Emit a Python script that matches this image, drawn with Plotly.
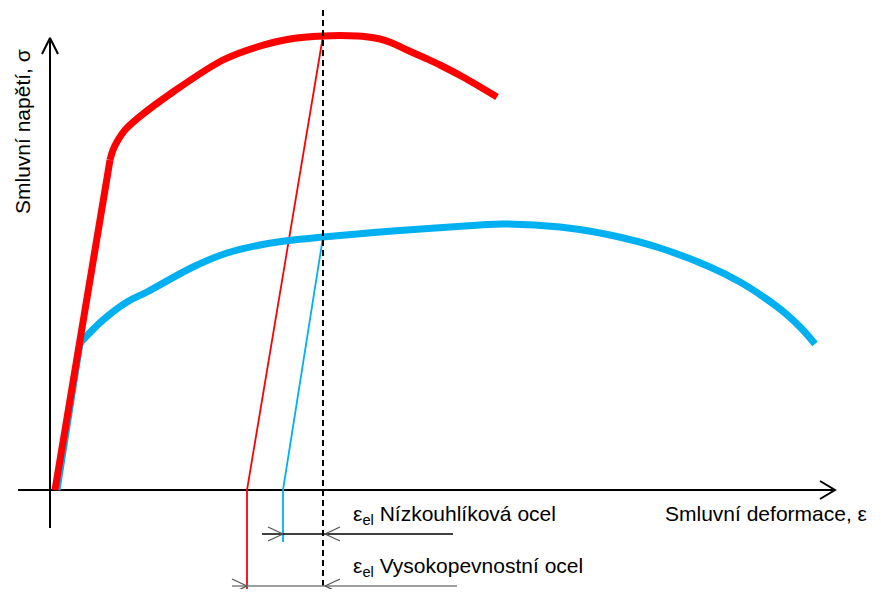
import plotly.graph_objects as go

# Coordinates: strain (horizontal), stress (vertical), origin at axes crossing
# Red: high-strength steel (Vysokopevnostní ocel)
red_el_strain = [5, 60]
red_el_stress = [0, 330]
red_pl_strain = [60, 63, 68, 75, 88, 123, 173, 207, 240, 273, 307, 318, 330, 342, 357, 375, 390, 413, 447]
red_pl_stress = [330, 340, 350, 360, 372, 398, 430, 443, 451, 454, 454, 453, 451, 447, 440, 432, 425, 413, 393]

# Blue: low-carbon steel (Nízkouhlíková ocel)
blue_el_strain = [7, 30]
blue_el_stress = [0, 147]
blue_pl_strain = [30, 53, 77, 97, 143, 177, 210, 243, 273, 343, 430, 453, 510, 560, 610, 660, 690, 715, 735, 752, 765]
blue_pl_stress = [147, 170, 188, 198, 223, 237, 245, 250, 253, 259, 265, 266, 263, 255, 242, 223, 208, 192, 177, 161, 146]

# Unloading (elastic recovery) lines
red_unload_strain = [273, 197, 197]
red_unload_stress = [454, 0, -107]
blue_unload_strain = [273, 233, 233]
blue_unload_stress = [253, 0, -52]

# Reference dashed line
dash_strain = [273, 273]
dash_stress = [480, -107]

# Axes
xaxis_strain = [-32, 785]
xaxis_stress = [0, 0]
yaxis_strain = [0, 0]
yaxis_stress = [-38, 452]

# Dimension lines for elastic strain
dim_blue_strain = [212, 403]
dim_blue_stress = [-44, -44]
dim_red_strain = [182, 407]
dim_red_stress = [-96, -96]

labels = {
    "x": "Smluvní deformace, ε",
    "y": "Smluvní napětí, σ",
    "blue": "ε<sub>el</sub> Nízkouhlíková ocel",
    "red": "ε<sub>el</sub> Vysokopevnostní ocel",
}

RED = "#FF0000"
BLUE = "#00B0F0"
FONT = "Liberation Sans"

fig = go.Figure()

def line(xs, ys, color, width, dash=None, shape="linear"):
    fig.add_trace(go.Scatter(x=xs, y=ys, mode="lines",
                             line=dict(color=color, width=width, dash=dash, shape=shape,
                                       smoothing=1.0 if shape == "spline" else None),
                             hoverinfo="skip"))

# axes
line(xaxis_strain, xaxis_stress, "black", 2)
line(yaxis_strain, yaxis_stress, "black", 2)
# arrowheads (open chevrons)
line([770, 785, 770], [9, 0, -9], "black", 2)
line([-8, 0, 8], [436, 452, 436], "black", 2)

# unloading lines
line(red_unload_strain, red_unload_stress, RED, 1.8)
line(blue_unload_strain, blue_unload_stress, BLUE, 1.8)

# curves
line(blue_el_strain, blue_el_stress, BLUE, 7)
line(blue_pl_strain, blue_pl_stress, BLUE, 7, shape="spline")
line(red_el_strain, red_el_stress, RED, 7)
line(red_pl_strain, red_pl_stress, RED, 7, shape="spline")

# dashed reference
line(dash_strain, dash_stress, "black", 2, dash="6px,4px")

# dimension lines
line(dim_blue_strain, dim_blue_stress, "black", 1.3)
line([218, 233, 218], [-37, -44, -51], "#555555", 1.3)
line([290, 275, 290], [-37, -44, -51], "#555555", 1.3)
line(dim_red_strain, dim_red_stress, "#7F7F7F", 1.5)
line([182, 197, 182], [-89, -96, -103], "#555555", 1.3)
line([290, 275, 290], [-89, -96, -103], "#555555", 1.3)

ann_font = dict(family=FONT, size=21, color="black")
fig.add_annotation(x=301, y=-25, text=labels["blue"], showarrow=False,
                   xanchor="left", yanchor="middle", font=ann_font)
fig.add_annotation(x=301, y=-77, text=labels["red"], showarrow=False,
                   xanchor="left", yanchor="middle", font=ann_font)
fig.add_annotation(x=819, y=-23, text=labels["x"], showarrow=False,
                   xanchor="right", yanchor="middle", font=ann_font)
fig.add_annotation(x=-28, y=358, text=labels["y"], showarrow=False, textangle=-90,
                   xanchor="center", yanchor="middle", font=ann_font)

# The page body adds an 8 px offset; the figure is sized to fit inside the window.
fig.update_layout(
    width=873, height=581, autosize=False,
    margin=dict(l=0, r=0, t=0, b=0),
    paper_bgcolor="white", plot_bgcolor="white",
    showlegend=False,
    xaxis=dict(range=[-42, 831], visible=False, fixedrange=True),
    yaxis=dict(range=[-99, 482], visible=False, fixedrange=True),
)

fig.write_html("out.html")
